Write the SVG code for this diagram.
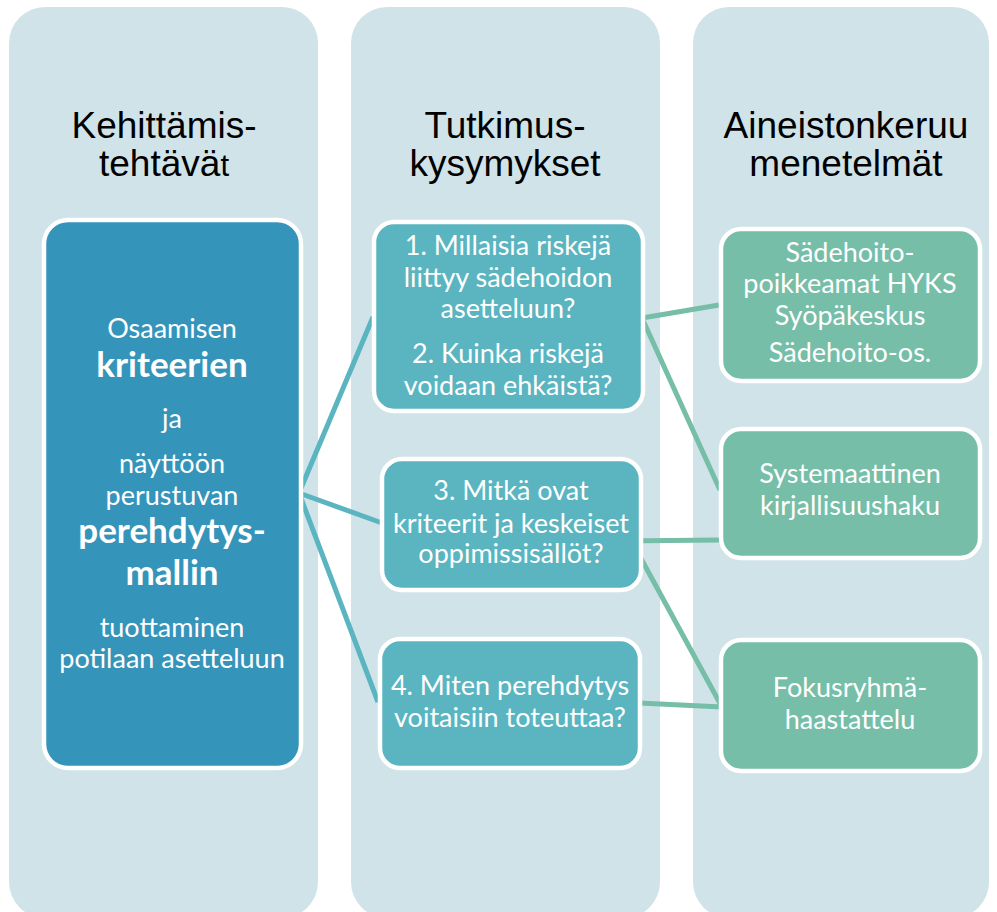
<svg xmlns="http://www.w3.org/2000/svg" width="997" height="912" viewBox="0 0 997 912">
<style>
.col{fill:#D0E3E8}
.hdr{font-family:"Liberation Sans",Arial,sans-serif;font-size:37px;fill:#000;text-anchor:middle}
.nb{stroke:#fff;stroke-width:4.5}
.t{font-family:Lato,"Open Sans",sans-serif;fill:#fff;text-anchor:middle;font-size:27px}
.b{font-weight:bold;font-size:35px}
.tl{fill:none;stroke:#5AB5C0;stroke-width:5}
.gl{fill:none;stroke:#76BEA8;stroke-width:5}
</style>
<rect width="997" height="912" fill="#fff"/>
<g id="columns">
<rect class="col" x="9" y="7" width="309" height="911" rx="36"/>
<rect class="col" x="351" y="7" width="309" height="911" rx="36"/>
<rect class="col" x="693" y="7" width="296" height="911" rx="36"/>
</g>
<g id="headers">
<text class="hdr" x="164" y="138">Kehittämis-</text>
<text class="hdr" x="164" y="176">tehtävä<tspan font-size="31">t</tspan></text>
<text class="hdr" x="505" y="138">Tutkimus-</text>
<text class="hdr" x="505" y="176">kysymykset</text>
<text class="hdr" x="846" y="138">Aineistonkeruu</text>
<text class="hdr" x="846" y="176">menetelmät</text>
</g>
<g id="connectors">
<path class="tl" d="M299,493 L373,317 M299,493 L382,523 M299,493 L378,702"/>
<path class="gl" d="M642,318 L719,305 M642,318 L720,490 M618,541 L720,540 M632,542 L722,707 M639,703 L722,707"/>
</g>
<g id="n-left">
<rect class="nb" x="44" y="220" width="257" height="548" rx="24" fill="#3594BA"/>
<text class="t" x="172" y="338">Osaamisen</text>
<text class="t b" x="172" y="377">kriteerien</text>
<text class="t" x="172" y="428">ja</text>
<text class="t" x="172" y="473">näyttöön</text>
<text class="t" x="172" y="505">perustuvan</text>
<text class="t b" x="172" y="543">perehdytys-</text>
<text class="t b" x="172" y="585">mallin</text>
<text class="t" x="172" y="637">tuottaminen</text>
<text class="t" x="172" y="668">potilaan asetteluun</text>
</g>
<g id="n-q12">
<rect class="nb" x="374" y="222" width="269" height="189" rx="20" fill="#5AB5C0"/>
<text class="t" x="508" y="255">1. Millaisia riskejä</text>
<text class="t" x="508" y="287">liittyy sädehoidon</text>
<text class="t" x="508" y="318">asetteluun?</text>
<text class="t" x="508" y="363">2. Kuinka riskejä</text>
<text class="t" x="508" y="395">voidaan ehkäistä?</text>
</g>
<g id="n-q3">
<rect class="nb" x="382" y="459" width="259" height="131" rx="20" fill="#5AB5C0"/>
<text class="t" x="511" y="500">3. Mitkä ovat</text>
<text class="t" x="511" y="533">kriteerit ja keskeiset</text>
<text class="t" x="511" y="563">oppimissisällöt?</text>
</g>
<g id="n-q4">
<rect class="nb" x="380" y="639" width="260" height="129" rx="20" fill="#5AB5C0"/>
<text class="t" x="510" y="695">4. Miten perehdytys</text>
<text class="t" x="510" y="727">voitaisiin toteuttaa?</text>
</g>
<g id="n-m1">
<rect class="nb" x="721" y="229" width="259" height="152" rx="20" fill="#76BEA8"/>
<text class="t" x="850" y="262">Sädehoito-</text>
<text class="t" x="850" y="293">poikkeamat HYKS</text>
<text class="t" x="850" y="325">Syöpäkeskus</text>
<text class="t" x="850" y="362">Sädehoito-os.</text>
</g>
<g id="n-m2">
<rect class="nb" x="721" y="429" width="259" height="129" rx="20" fill="#76BEA8"/>
<text class="t" x="850" y="483">Systemaattinen</text>
<text class="t" x="850" y="515">kirjallisuushaku</text>
</g>
<g id="n-m3">
<rect class="nb" x="721" y="640" width="259" height="131" rx="20" fill="#76BEA8"/>
<text class="t" x="850" y="697">Fokusryhmä-</text>
<text class="t" x="850" y="729">haastattelu</text>
</g>
</svg>
